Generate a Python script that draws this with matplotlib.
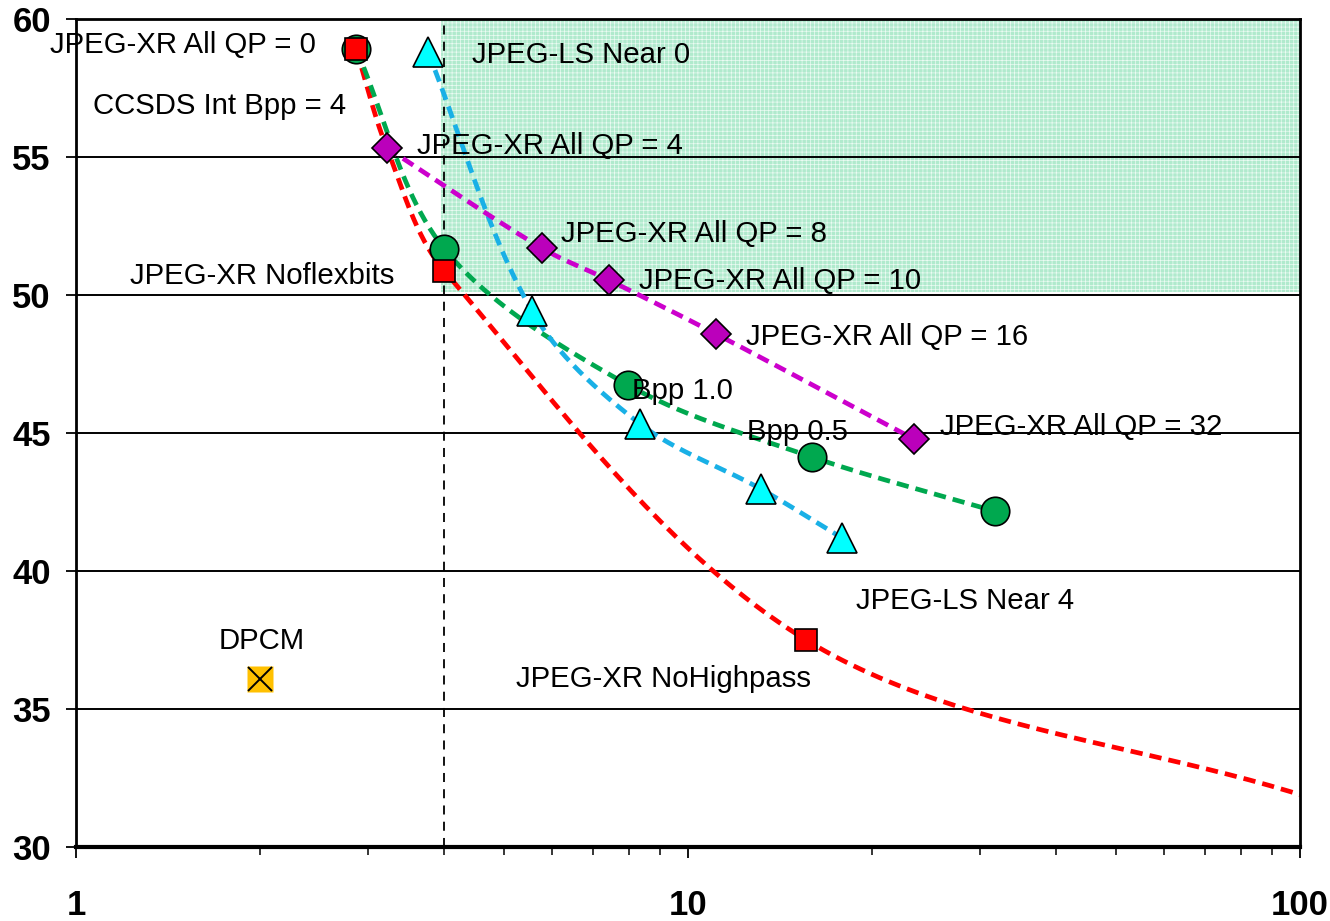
import numpy as np
import matplotlib
matplotlib.use("Agg")
import matplotlib.pyplot as plt
from matplotlib.patches import Rectangle
from matplotlib.ticker import FixedLocator, NullFormatter

plt.rcParams['font.family'] = ['Liberation Sans', 'DejaVu Sans']
plt.rcParams['hatch.linewidth'] = 0.5

# Rate (compression ratio, log scale) vs PSNR (dB)
xr_all_x = [2.87, 4.0, 7.98, 15.95, 31.7]          # JPEG-XR All, by bits per pixel
xr_all_y = [58.9, 51.67, 46.74, 44.13, 42.17]

# JPEG-XR QP 0 / QP 4 / Noflexbits / NoHighpass, and the curve end at the axis edge
xr_red_x = [2.87, 3.22, 4.0, 15.6, 100.0]
xr_red_y = [58.9, 55.33, 50.87, 37.5, 31.9]
xr_red_marked = [True, False, True, True, False]

ls_x = [3.76, 5.56, 8.35, 13.16, 17.85]            # JPEG-LS Near 0..4
ls_y = [58.8, 49.42, 45.33, 42.97, 41.2]

qp_x = [3.22, 5.77, 7.43, 11.11, 23.4]             # JPEG-XR All QP = 4, 8, 10, 16, 32
qp_y = [55.33, 51.7, 50.54, 48.59, 44.78]

dpcm_x = [2.0]
dpcm_y = [36.09]

ccsds_limit_x = 4.0
target_psnr = 50.0

x_major = [1, 10, 100]
y_ticks = [30, 35, 40, 45, 50, 55, 60]

labels = [
    ("JPEG-XR All QP = 0", 0.907, 59.06),
    ("CCSDS Int Bpp = 4", 1.066, 56.85),
    ("JPEG-LS Near 0", 4.436, 58.70),
    ("JPEG-XR All QP = 4", 3.607, 55.40),
    ("JPEG-XR All QP = 8", 6.20, 52.21),
    ("JPEG-XR Noflexbits", 1.225, 50.69),
    ("JPEG-XR All QP = 10", 8.31, 50.51),
    ("JPEG-XR All QP = 16", 12.44, 48.48),
    ("Bpp 1.0", 8.10, 46.52),
    ("Bpp 0.5", 12.49, 45.04),
    ("JPEG-XR All QP = 32", 25.8, 45.22),
    ("JPEG-LS Near 4", 18.81, 38.91),
    ("DPCM", 1.712, 37.46),
    ("JPEG-XR NoHighpass", 5.236, 36.09),
]

XSPAN, YSPAN = 612.0, 27.6   # display scale: pixels per decade / per dB


def smooth(xs, ys, n=50):
    """Smoothed line through the points: cubic Bezier segments whose tangents
    follow the neighbours, scaled by the chord lengths (log-x display space)."""
    px = np.log10(np.asarray(xs, float)) * XSPAN
    py = np.asarray(ys, float) * YSPAN
    P = np.column_stack([px, py])
    m = len(P)
    out = []
    for i in range(m - 1):
        p0 = P[max(i - 1, 0)]
        p1 = P[i]
        p2 = P[i + 1]
        p3 = P[min(i + 2, m - 1)]
        d01 = np.hypot(*(p1 - p0))
        d12 = np.hypot(*(p2 - p1))
        d23 = np.hypot(*(p3 - p2))
        c1 = p1 + (p2 - p0) * (d12 / (d01 + d12)) / 3.0
        c2 = p2 - (p3 - p1) * (d12 / (d12 + d23)) / 3.0
        t = np.linspace(0, 1, n)[:, None]
        seg = ((1 - t) ** 3) * p1 + 3 * ((1 - t) ** 2) * t * c1 + 3 * (1 - t) * t ** 2 * c2 + t ** 3 * p2
        out.append(seg if i == 0 else seg[1:])
    out = np.vstack(out)
    return 10 ** (out[:, 0] / XSPAN), out[:, 1] / YSPAN


fig = plt.figure(figsize=(13.3, 9.21), dpi=100)
ax = fig.add_axes([0.0571, 0.0803, 0.9203, 0.8991])
ax.set_xscale('log')
ax.set_xlim(1, 100)
ax.set_ylim(30, 60)

# target zone: above 50 dB and beyond the CCSDS 4 bpp rate
ax.add_patch(Rectangle((3.95, target_psnr + 0.12), 100 - 3.95, 60 - target_psnr - 0.12,
                       facecolor='#b0eacd', edgecolor='#ecfbf3', linewidth=0,
                       hatch='++++', zorder=0.5))

for yv in y_ticks[1:-1]:
    ax.axhline(yv, color='black', lw=1.4, zorder=1)
ax.axvline(ccsds_limit_x, color='black', lw=1.3, ls=(0, (5, 4)), zorder=1)

dash = (0, (2.6, 1.5))
lw = 3.4

sx, sy = smooth(xr_red_x, xr_red_y)
ax.plot(sx, sy, color='#ff0000', lw=lw, ls=dash, zorder=2)
sx, sy = smooth(xr_all_x, xr_all_y)
ax.plot(sx, sy, color='#00a84f', lw=lw, ls=dash, zorder=2)
sx, sy = smooth(ls_x, ls_y)
ax.plot(sx, sy, color='#19b0e6', lw=lw, ls=dash, zorder=2)
sx, sy = smooth(qp_x, qp_y)
ax.plot(sx, sy, color='#cc00cc', lw=lw, ls=dash, zorder=2)

ax.plot(xr_all_x, xr_all_y, 'o', ms=20.5, mfc='#00a84f', mec='black', mew=1.2, zorder=3)
ax.plot(ls_x, ls_y, '^', ms=21, mfc='#00ffff', mec='black', mew=1.2, zorder=3)
ax.plot(qp_x, qp_y, 'D', ms=15, mfc='#bb00bb', mec='black', mew=1.2, zorder=3)
red_mx = [x for x, m in zip(xr_red_x, xr_red_marked) if m]
red_my = [y for y, m in zip(xr_red_y, xr_red_marked) if m]
ax.plot(red_mx, red_my, 's', ms=16.5, mfc='#ff0000', mec='black', mew=1.2, zorder=4)
ax.plot(dpcm_x, dpcm_y, 's', ms=18.5, mfc='#ffc000', mec='none', zorder=3)
ax.plot(dpcm_x, dpcm_y, 'x', ms=17, mec='black', mew=1.4, zorder=4)

for txt, x, y in labels:
    ax.text(x, y, txt, fontsize=21.2, ha='left', va='center', color='black', zorder=5)

# axes frame and ticks
for side in ['left', 'right', 'top']:
    ax.spines[side].set_linewidth(2)
ax.spines['bottom'].set_linewidth(3)
ax.xaxis.set_major_locator(FixedLocator(x_major))
ax.xaxis.set_minor_locator(FixedLocator([k * d for d in (1, 10) for k in range(2, 10)]))
ax.xaxis.set_minor_formatter(NullFormatter())
ax.set_xticklabels([str(v) for v in x_major])
ax.set_yticks(y_ticks)
ax.set_yticklabels([str(v) for v in y_ticks])
ax.tick_params(axis='x', which='major', direction='out', length=8, width=1.3, pad=22)
ax.tick_params(axis='x', which='minor', direction='out', length=6, width=1.1)
ax.tick_params(axis='y', which='major', direction='out', length=7, width=1.3, pad=11)
for lab in ax.get_xticklabels() + ax.get_yticklabels():
    lab.set_family(['Liberation Sans Narrow', 'Liberation Sans', 'DejaVu Sans'])
    lab.set_fontweight('bold')
    lab.set_fontsize(25)

fig.savefig('out.png', dpi=100)
